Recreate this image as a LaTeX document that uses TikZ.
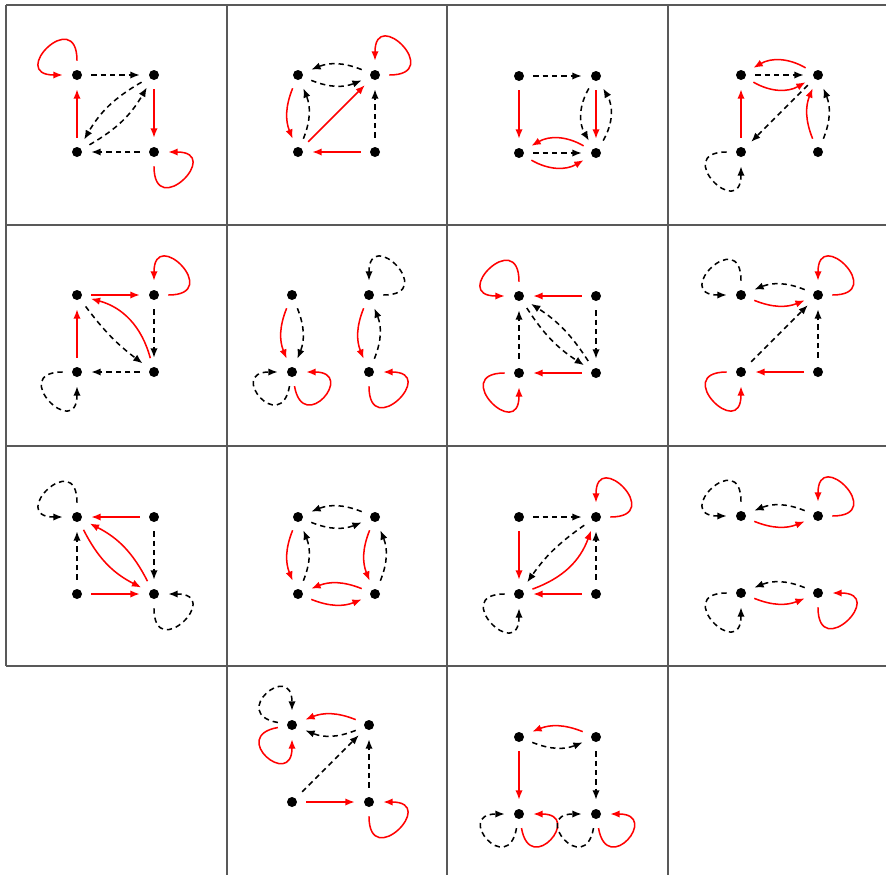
\documentclass[tikz,border=0pt]{standalone}
\usepackage{tikz}
\usetikzlibrary{arrows.meta,positioning}

\newcommand\fourdots[3]{%
  \node[vtx] (#1a) at (#2,#3) {};
  \node[vtx, right=of #1a] (#1b) {};
  \node[vtx, below=of #1a] (#1c) {};
  \node[vtx, right=of #1c] (#1d) {};
}

\begin{document}
\begin{tikzpicture}[x=0.75pt, y=0.75pt, on grid, node distance=57.75pt,
  vtx/.style={circle, fill=black, inner sep=0pt, minimum size=7.5pt, outer sep=7pt},
  rd/.style={red, line width=1.15pt, -{Latex[length=7pt,width=5.5pt]}},
  bk/.style={black, line width=1.15pt, dash pattern=on 4pt off 3pt, -{Latex[length=7pt,width=5.5pt]}},
  lp/.style 2 args={out=#1, in=#2, looseness=7},
  grid/.style={black!65, line width=0.8pt}]
  \useasboundingbox (0,0) rectangle (886,-875);

  \draw[grid] (6,-5) -- (886,-5);
  \draw[grid] (6,-225) -- (886,-225);
  \draw[grid] (6,-446) -- (886,-446);
  \draw[grid] (6,-666) -- (886,-666);
  \draw[grid] (6,-5) -- (6,-666);
  \draw[grid] (227,-5) -- (227,-875);
  \draw[grid] (447,-5) -- (447,-875);
  \draw[grid] (668,-5) -- (668,-875);

  \fourdots{p1}{77}{-75}
  \fourdots{p2}{298}{-75}
  \fourdots{p3}{519}{-76}
  \fourdots{p4}{741}{-75}
  \fourdots{p5}{77}{-295}
  \fourdots{p6}{292}{-295}
  \fourdots{p7}{519}{-296}
  \fourdots{p8}{741}{-295}
  \fourdots{p9}{77}{-517}
  \fourdots{p10}{298}{-517}
  \fourdots{p11}{519}{-517}
  \fourdots{p12}{741}{-516}
  \fourdots{p13}{292}{-725}
  \fourdots{p14}{519}{-737}

  % first row
  \draw[rd] (p1a) to[lp={90}{180}] (p1a);
  \draw[bk] (p1a) -- (p1b);
  \draw[rd] (p1b) -- (p1d);
  \draw[rd] (p1c) -- (p1a);
  \draw[bk] (p1d) -- (p1c);
  \draw[bk] (p1b) to[bend right=15] (p1c);
  \draw[bk] (p1c) to[bend right=15] (p1b);
  \draw[rd] (p1d) to[lp={270}{0}] (p1d);

  \draw[bk] (p2b) to[bend right=22] (p2a);
  \draw[bk] (p2a) to[bend right=22] (p2b);
  \draw[rd] (p2b) to[lp={0}{90}] (p2b);
  \draw[rd] (p2a) to[bend right=22] (p2c);
  \draw[bk] (p2c) to[bend right=22] (p2a);
  \draw[rd] (p2c) -- (p2b);
  \draw[bk] (p2d) -- (p2b);
  \draw[rd] (p2d) -- (p2c);

  \draw[bk] (p3a) -- (p3b);
  \draw[rd] (p3a) -- (p3c);
  \draw[rd] (p3b) -- (p3d);
  \draw[bk] (p3b) to[bend right=30] (p3d);
  \draw[bk] (p3d) to[bend right=30] (p3b);
  \draw[bk] (p3c) -- (p3d);
  \draw[rd] (p3d) to[bend right=30] (p3c);
  \draw[rd] (p3c) to[bend right=30] (p3d);

  \draw[bk] (p4a) -- (p4b);
  \draw[rd] (p4b) to[bend right=30] (p4a);
  \draw[rd] (p4a) to[bend right=30] (p4b);
  \draw[rd] (p4c) -- (p4a);
  \draw[bk] (p4b) -- (p4c);
  \draw[rd] (p4d) to[bend left=22] (p4b);
  \draw[bk] (p4d) to[bend right=22] (p4b);
  \draw[bk] (p4c) to[lp={180}{270}] (p4c);

  % second row
  \draw[rd] (p5a) -- (p5b);
  \draw[rd] (p5b) to[lp={0}{90}] (p5b);
  \draw[bk] (p5b) -- (p5d);
  \draw[bk] (p5d) -- (p5c);
  \draw[rd] (p5c) -- (p5a);
  \draw[bk] (p5a) to[bend right=8] (p5d);
  \draw[rd] (p5d) to[bend right=30] (p5a);
  \draw[bk] (p5c) to[lp={180}{270}] (p5c);

  \draw[rd] (p6a) to[bend right=22] (p6c);
  \draw[bk] (p6a) to[bend left=22] (p6c);
  \draw[bk] (p6c) to[lp={260}{180}] (p6c);
  \draw[rd] (p6c) to[lp={280}{0}] (p6c);
  \draw[rd] (p6b) to[bend right=22] (p6d);
  \draw[bk] (p6d) to[bend right=22] (p6b);
  \draw[bk] (p6b) to[lp={0}{90}] (p6b);
  \draw[rd] (p6d) to[lp={270}{0}] (p6d);

  \draw[rd] (p7a) to[lp={90}{180}] (p7a);
  \draw[rd] (p7b) -- (p7a);
  \draw[bk] (p7b) -- (p7d);
  \draw[bk] (p7c) -- (p7a);
  \draw[rd] (p7d) -- (p7c);
  \draw[bk] (p7a) to[bend right=12] (p7d);
  \draw[bk] (p7d) to[bend right=12] (p7a);
  \draw[rd] (p7c) to[lp={180}{270}] (p7c);

  \draw[bk] (p8a) to[lp={90}{180}] (p8a);
  \draw[bk] (p8b) to[bend right=22] (p8a);
  \draw[rd] (p8a) to[bend right=22] (p8b);
  \draw[rd] (p8b) to[lp={0}{90}] (p8b);
  \draw[bk] (p8c) -- (p8b);
  \draw[bk] (p8d) -- (p8b);
  \draw[rd] (p8d) -- (p8c);
  \draw[rd] (p8c) to[lp={180}{270}] (p8c);

  % third row
  \draw[bk] (p9a) to[lp={90}{180}] (p9a);
  \draw[rd] (p9b) -- (p9a);
  \draw[bk] (p9c) -- (p9a);
  \draw[bk] (p9b) -- (p9d);
  \draw[rd] (p9c) -- (p9d);
  \draw[rd] (p9a) to[bend right=18] (p9d);
  \draw[rd] (p9d) to[bend right=18] (p9a);
  \draw[bk] (p9d) to[lp={270}{0}] (p9d);

  \draw[bk] (p10b) to[bend right=22] (p10a);
  \draw[bk] (p10a) to[bend right=22] (p10b);
  \draw[rd] (p10a) to[bend right=22] (p10c);
  \draw[bk] (p10c) to[bend right=22] (p10a);
  \draw[rd] (p10b) to[bend right=22] (p10d);
  \draw[bk] (p10d) to[bend right=22] (p10b);
  \draw[rd] (p10d) to[bend right=22] (p10c);
  \draw[rd] (p10c) to[bend right=22] (p10d);

  \draw[bk] (p11a) -- (p11b);
  \draw[rd] (p11b) to[lp={0}{90}] (p11b);
  \draw[rd] (p11a) -- (p11c);
  \draw[bk] (p11d) -- (p11b);
  \draw[rd] (p11d) -- (p11c);
  \draw[bk] (p11b) to[bend right=10] (p11c);
  \draw[rd] (p11c) to[bend right=25] (p11b);
  \draw[bk] (p11c) to[lp={180}{270}] (p11c);

  \draw[bk] (p12a) to[lp={90}{180}] (p12a);
  \draw[bk] (p12b) to[bend right=22] (p12a);
  \draw[rd] (p12a) to[bend right=22] (p12b);
  \draw[rd] (p12b) to[lp={0}{90}] (p12b);
  \draw[bk] (p12c) to[lp={180}{270}] (p12c);
  \draw[bk] (p12d) to[bend right=22] (p12c);
  \draw[rd] (p12c) to[bend right=22] (p12d);
  \draw[rd] (p12d) to[lp={270}{0}] (p12d);

  % last row
  \draw[bk] (p13a) to[lp={170}{90}] (p13a);
  \draw[rd] (p13a) to[lp={190}{270}] (p13a);
  \draw[rd] (p13b) to[bend right=22] (p13a);
  \draw[bk] (p13b) to[bend left=22] (p13a);
  \draw[bk] (p13c) -- (p13b);
  \draw[bk] (p13d) -- (p13b);
  \draw[rd] (p13c) -- (p13d);
  \draw[rd] (p13d) to[lp={270}{0}] (p13d);

  \draw[rd] (p14b) to[bend right=22] (p14a);
  \draw[bk] (p14a) to[bend right=22] (p14b);
  \draw[rd] (p14a) -- (p14c);
  \draw[bk] (p14b) -- (p14d);
  \draw[bk] (p14c) to[lp={260}{180}] (p14c);
  \draw[rd] (p14c) to[lp={280}{0}] (p14c);
  \draw[bk] (p14d) to[lp={260}{180}] (p14d);
  \draw[rd] (p14d) to[lp={280}{0}] (p14d);
\end{tikzpicture}
\end{document}
